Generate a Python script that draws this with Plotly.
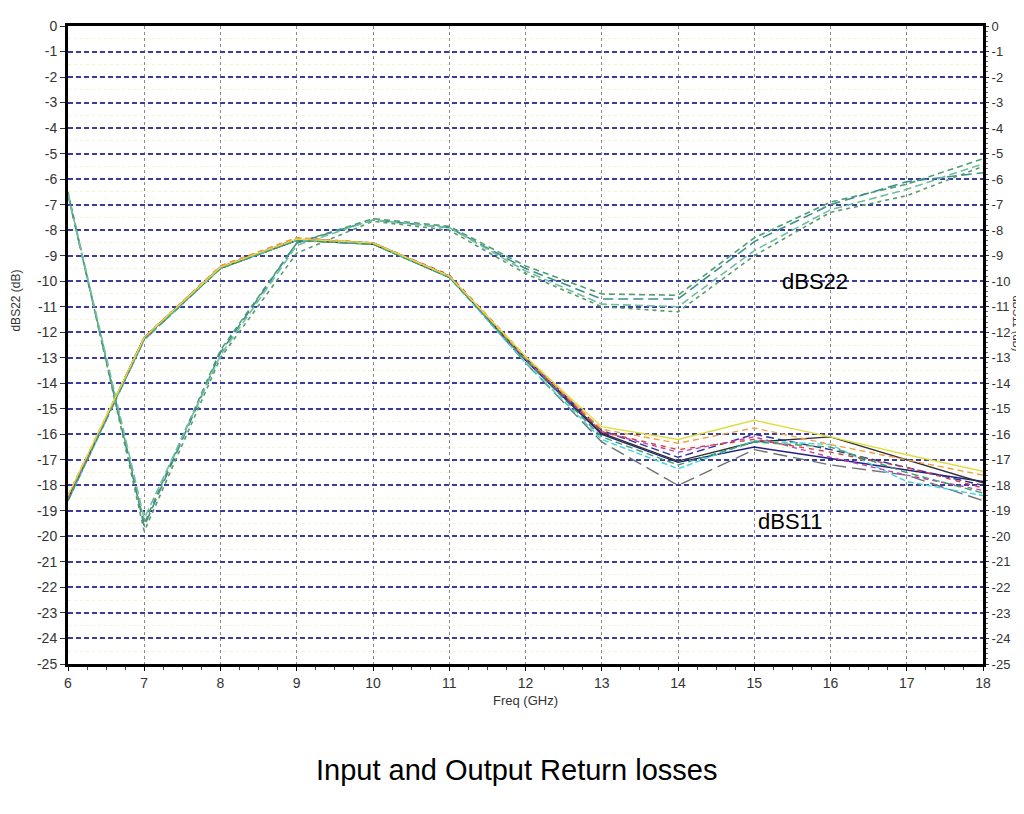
import plotly.graph_objects as go

freq = [6, 7, 8, 9, 10, 11, 12, 13, 14, 15, 16, 17, 18]

# dBS22 (output return loss) - four dashed green traces (left axis)
s22_a = [-6.6, -19.5, -12.7, -8.5, -7.55, -7.85, -9.4, -10.5, -10.55, -8.3, -6.9, -6.2, -5.2]
s22_b = [-6.6, -19.6, -12.8, -8.5, -7.6, -7.9, -9.5, -10.7, -10.7, -8.45, -7.0, -6.1, -5.75]
s22_c = [-6.5, -19.8, -13.0, -8.9, -7.65, -8.0, -9.7, -11.0, -11.2, -9.0, -7.3, -6.65, -5.5]
s22_d = [-6.6, -19.3, -12.9, -8.6, -7.6, -7.9, -9.6, -10.9, -11.0, -8.8, -7.2, -6.4, -5.4]

# dBS11 (input return loss) - ten traces (right axis)
s11_yellow = [-18.4, -12.2, -9.45, -8.35, -8.5, -9.8, -12.95, -15.7, -16.2, -15.45, -16.1, -16.8, -17.45]
s11_orange = [-18.4, -12.2, -9.4, -8.3, -8.5, -9.8, -13.0, -15.8, -16.35, -15.75, -16.4, -17.0, -17.6]
s11_magenta = [-18.5, -12.25, -9.45, -8.35, -8.5, -9.8, -13.05, -15.9, -16.7, -16.1, -16.9, -17.6, -18.2]
s11_navy = [-18.5, -12.2, -9.45, -8.4, -8.5, -9.8, -13.1, -16.0, -17.1, -16.5, -16.95, -17.4, -17.85]
s11_black = [-18.5, -12.2, -9.5, -8.4, -8.55, -9.85, -13.0, -15.95, -17.05, -16.3, -16.1, -17.0, -17.9]
s11_cyan = [-18.6, -12.3, -9.5, -8.4, -8.55, -9.85, -13.2, -16.2, -17.35, -16.25, -16.4, -17.85, -18.4]
s11_gray = [-18.6, -12.3, -9.5, -8.4, -8.5, -9.8, -13.2, -16.3, -18.0, -16.6, -17.2, -17.6, -18.6]
s11_blue = [-18.5, -12.2, -9.45, -8.35, -8.5, -9.8, -13.0, -15.85, -16.9, -16.0, -16.6, -17.3, -18.0]
s11_red = [-18.4, -12.2, -9.4, -8.3, -8.5, -9.75, -12.95, -15.9, -16.6, -16.2, -16.7, -17.3, -18.1]
s11_green = [-18.6, -12.25, -9.5, -8.4, -8.55, -9.85, -13.1, -16.1, -17.2, -16.3, -16.5, -17.5, -18.3]

x_ticks = list(range(6, 19))
y_ticks = list(range(-25, 1))

FONT = "Liberation Sans, Arial, sans-serif"

fig = go.Figure()

s22_series = [
    (s22_a, "#4f9f6f", "6px,4px"),
    (s22_b, "#3f8f8f", "10px,5px"),
    (s22_c, "#5a9a6a", "4px,4px"),
    (s22_d, "#6fbfa0", "8px,4px"),
]
for vals, col, dash in s22_series:
    fig.add_trace(go.Scatter(x=freq, y=vals, mode="lines", yaxis="y",
                             line=dict(color=col, width=1.6, dash=dash),
                             hoverinfo="x+y", showlegend=False))

s11_series = [
    (s11_navy, "#202080", "solid"),
    (s11_black, "#303030", "solid"),
    (s11_gray, "#707070", "14px,6px"),
    (s11_blue, "#303090", "8px,4px"),
    (s11_cyan, "#40d0e0", "6px,3px"),
    (s11_magenta, "#c040c0", "5px,4px"),
    (s11_green, "#40a060", "7px,4px"),
    (s11_red, "#d04040", "5px,5px"),
    (s11_orange, "#f0a040", "6px,4px"),
    (s11_yellow, "#dede40", "solid"),
]
for vals, col, dash in s11_series:
    fig.add_trace(go.Scatter(x=freq, y=vals, mode="lines", yaxis="y2",
                             line=dict(color=col, width=1.4, dash=dash),
                             hoverinfo="x+y", showlegend=False))

tickfont = dict(family=FONT, size=14, color="#333333")
tickfont_r = dict(family=FONT, size=13, color="#333333")

fig.update_layout(
    width=1024, height=814,
    margin=dict(l=60, r=49, t=10, b=158),
    paper_bgcolor="white", plot_bgcolor="white",
    showlegend=False,
    font=dict(family=FONT, color="#000000"),
    xaxis=dict(
        range=[6, 18], tickmode="array", tickvals=x_ticks, ticktext=[str(v) for v in x_ticks],
        showgrid=True, gridcolor="#8a8a8a", griddash="3px,3px", gridwidth=1,
        showline=True, linecolor="black", linewidth=3, mirror=True,
        ticks="outside", ticklen=4, tickcolor="black", tickfont=tickfont,
        zeroline=False,
        minor=dict(dtick=0.25, ticks="outside", ticklen=3, tickcolor="#444", showgrid=False),
    ),
    yaxis=dict(
        range=[-25, 0], tickmode="array", tickvals=y_ticks, ticktext=[str(v) for v in y_ticks],
        showgrid=True, gridcolor="#3c3ca0", griddash="5px,3px", gridwidth=1.5,
        showline=True, linecolor="black", linewidth=3,
        ticks="outside", ticklen=5, tickcolor="#333", tickfont=tickfont,
        zeroline=False,
        minor=dict(dtick=0.5, showgrid=True, gridcolor="#f5f1d4", griddash="dot", gridwidth=1),
    ),
    yaxis2=dict(
        range=[-25, 0], tickmode="array", tickvals=y_ticks, ticktext=[str(v) for v in y_ticks],
        overlaying="y", side="right", showgrid=False,
        showline=True, linecolor="black", linewidth=3,
        ticks="outside", ticklen=3, tickcolor="#333", tickfont=tickfont_r,
        zeroline=False,
        minor=dict(dtick=0.2, ticks="outside", ticklen=2, tickcolor="#666"),
    ),
)

annos = [
    dict(text="Freq (GHz)", x=0.5, y=-0.0573, xref="paper", yref="paper",
         showarrow=False, xanchor="center", yanchor="middle",
         font=dict(family=FONT, size=13, color="#333333")),
    dict(text="Input and Output Return losses", x=0.49, y=-0.1656, xref="paper", yref="paper",
         showarrow=False, xanchor="center", yanchor="middle",
         font=dict(family=FONT, size=29, color="#000000")),
    dict(text="dBS22 (dB)", x=-0.0566, y=0.57, xref="paper", yref="paper",
         showarrow=False, xanchor="center", yanchor="middle", textangle=-90,
         font=dict(family=FONT, size=12, color="#333333")),
    dict(text="dBS11 (dB)", x=1.037, y=0.534, xref="paper", yref="paper",
         showarrow=False, xanchor="center", yanchor="middle", textangle=90,
         borderpad=0,
         font=dict(family=FONT, size=11, color="#333333")),
    dict(text="dBS22", x=15.8, y=-10.0, xref="x", yref="y",
         showarrow=False, xanchor="center", yanchor="middle",
         font=dict(family=FONT, size=22, color="#000000")),
    dict(text="dBS11", x=15.47, y=-19.4, xref="x", yref="y",
         showarrow=False, xanchor="center", yanchor="middle",
         font=dict(family=FONT, size=22, color="#000000")),
]
fig.update_layout(annotations=annos)

fig.write_html("out.html")
